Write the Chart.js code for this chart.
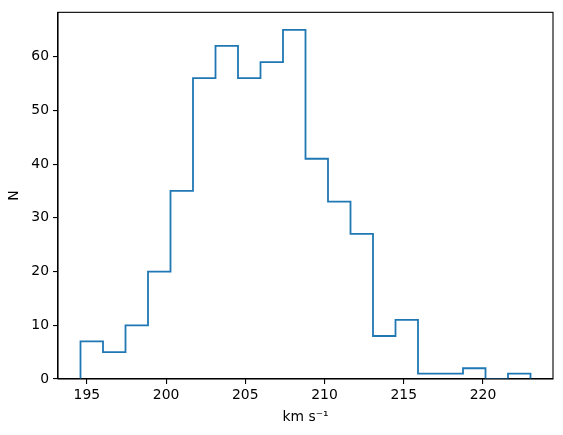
<!DOCTYPE html>
<html lang="en">
<head>
    <meta charset="UTF-8">
    <title>Histogram</title>
    <style>
        body { margin: 0; background: #fff; }
        .wrap { width: 563px; height: 435px; position: relative; }
    </style>
</head>
<body>
    <div class="wrap">
        <canvas id="chart"></canvas>
    </div>

    <script src="https://cdn.jsdelivr.net/npm/chart.js@4/dist/chart.umd.min.js"></script>
    <script>
        // bin range (20 equal bins) and counts per bin
        const binStart = 194.6;
        const binEnd = 223.0;
        const counts = [7, 5, 10, 20, 35, 56, 62, 56, 59, 65, 41, 33, 27, 8, 11, 1, 1, 2, 0, 1];
        const xTicks = [195, 200, 205, 210, 215, 220];
        const yTicks = [0, 10, 20, 30, 40, 50, 60];

        const FONT = { family: 'DejaVu Sans', size: 13.9 };

        // build the step outline from the bins
        const width = (binEnd - binStart) / counts.length;
        const edges = counts.map((c, i) => binStart + i * width).concat([binEnd]);
        const pts = [{ x: edges[0], y: 0 }];
        counts.forEach((c, i) => {
            pts.push({ x: edges[i], y: c });
            pts.push({ x: edges[i + 1], y: c });
        });
        pts.push({ x: edges[edges.length - 1], y: 0 });

        const span = binEnd - binStart;
        const maxCount = Math.max(...counts);

        const frame = {
            id: 'frame',
            afterDraw(chart) {
                const a = chart.chartArea, ctx = chart.ctx;
                ctx.save();
                ctx.strokeStyle = '#000';
                ctx.lineWidth = 1.1;
                ctx.strokeRect(a.left, a.top, a.right - a.left, a.bottom - a.top);
                ctx.restore();
            }
        };

        new Chart(document.getElementById('chart'), {
            type: 'line',
            data: {
                datasets: [{
                    data: pts,
                    borderColor: '#1f77b4',
                    borderWidth: 1.8,
                    pointRadius: 0,
                    fill: false,
                    tension: 0
                }]
            },
            options: {
                responsive: true,
                maintainAspectRatio: false,
                animation: false,
                layout: { padding: { top: 10, right: 10, left: 0, bottom: 0 } },
                plugins: { legend: { display: false }, tooltip: { enabled: false } },
                scales: {
                    x: {
                        type: 'linear',
                        min: binStart - 0.05 * span,
                        max: binEnd + 0.05 * span,
                        afterBuildTicks: s => { s.ticks = xTicks.map(v => ({ value: v })); },
                        afterFit: s => { s.height = 56; },
                        grid: { display: true, drawOnChartArea: false, drawTicks: true, tickLength: 5, color: '#000', lineWidth: 1.1 },
                        border: { display: true, color: '#000', width: 1.1 },
                        ticks: { color: '#000', font: FONT, padding: 3, maxRotation: 0, autoSkip: false },
                        title: { display: true, text: 'km s⁻¹', color: '#000', font: FONT, padding: { top: 0, bottom: 9 } }
                    },
                    y: {
                        min: 0,
                        max: maxCount * 1.05,
                        afterBuildTicks: s => { s.ticks = yTicks.map(v => ({ value: v })); },
                        afterFit: s => { s.width = 58; },
                        grid: { display: true, drawOnChartArea: false, drawTicks: true, tickLength: 5, color: '#000', lineWidth: 1.1 },
                        border: { display: true, color: '#000', width: 1.1 },
                        ticks: { color: '#000', font: FONT, padding: 4, autoSkip: false },
                        title: { display: true, text: 'N', color: '#000', font: FONT, padding: { top: 6, bottom: 0 } }
                    }
                }
            },
            plugins: [frame]
        });
    </script>
</body>
</html>
